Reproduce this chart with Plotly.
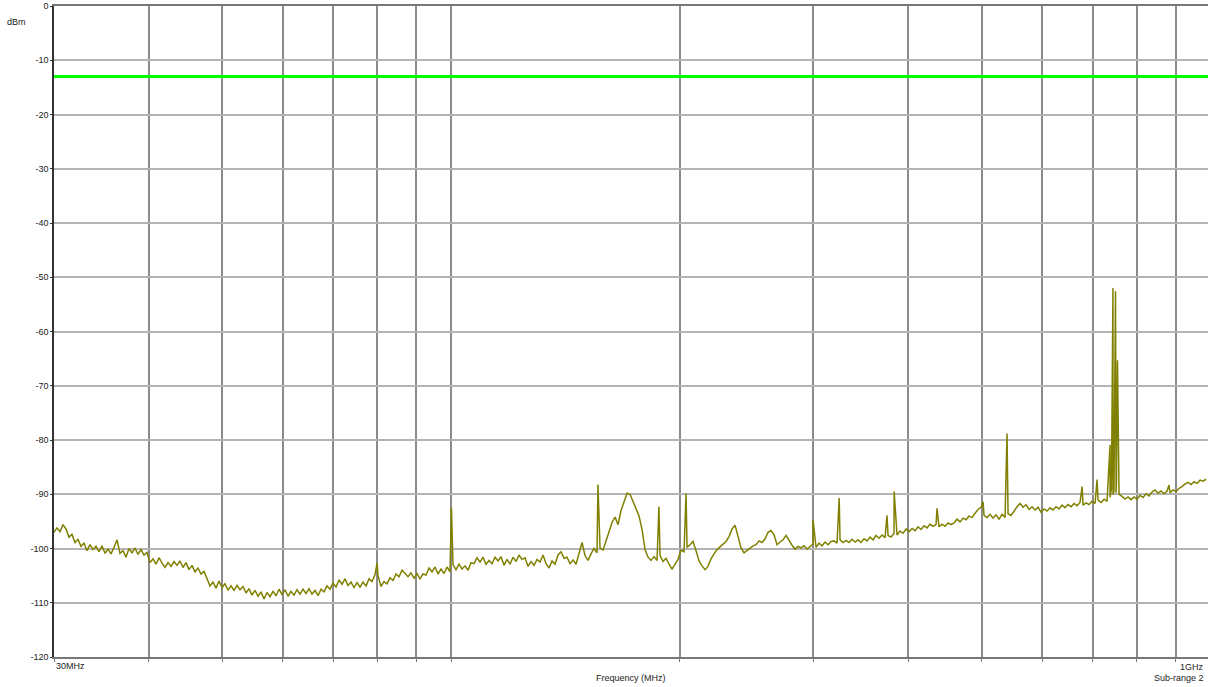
import numpy as np
import plotly.graph_objects as go

# --- sweep data (dBm) ---
F_START = 30.0      # MHz
F_STOP = 986.7      # MHz, last sweep point visible
LIMIT = -13.0       # dBm limit line

# noise floor, one value per sweep point (log sweep)
levels = [
    -97.0, -96.2, -96.9, -95.6, -96.4, -97.9, -97.4, -98.9, -98.3, -99.6, -99.0, -100.4, -99.3, -100.2, -99.6, -100.6, -99.5, -100.9, -100.1, -101.0,
    -99.8, -98.4, -100.9, -100.4, -101.6, -100.0, -100.8, -99.9, -101.1, -100.2, -101.2, -100.7, -102.6, -101.9, -102.9, -101.7, -102.7, -103.5, -102.6, -103.3,
    -102.4, -103.1, -102.3, -103.5, -102.6, -103.9, -103.1, -104.3, -103.6, -104.7, -104.2, -105.4, -106.9, -106.2, -107.3, -106.0, -107.2, -106.5, -107.7, -106.9,
    -107.7, -106.8, -107.6, -107.0, -108.2, -107.4, -108.6, -107.7, -108.8, -108.0, -109.3, -108.1, -108.9, -107.9, -108.7, -107.5, -108.5, -107.6, -108.8, -107.9,
    -108.6, -107.6, -108.4, -107.5, -108.3, -107.4, -108.4, -107.7, -108.7, -107.5, -108.0, -106.9, -107.5, -106.4, -107.1, -105.8, -106.6, -105.6, -106.8, -106.2,
    -107.2, -106.3, -107.1, -106.2, -106.9, -105.6, -106.1, -104.8, -105.0, -107.0, -106.1, -106.5, -105.4, -105.9, -104.7, -105.2, -104.0, -104.6, -105.2, -104.5,
    -105.5, -104.6, -105.6, -104.7, -104.9, -103.6, -104.3, -103.4, -104.7, -103.8, -104.6, -103.4, -104.3, -103.0, -103.9, -102.9, -103.8, -103.2, -104.0, -102.6,
    -102.8, -101.7, -102.5, -101.6, -102.9, -102.2, -102.8, -101.6, -102.3, -101.5, -103.1, -102.0, -102.9, -101.6, -102.4, -101.2, -102.0, -101.7, -103.3, -102.4,
    -103.1, -102.0, -102.5, -101.2, -102.8, -103.6, -102.3, -102.9, -101.2, -100.6, -101.8, -101.6, -102.8, -102.1, -102.9, -100.8, -98.9, -101.3, -102.2, -101.0,
    -100.0, -100.8, -99.9, -100.3, -98.6, -97.0, -95.2, -94.2, -95.6, -93.0, -91.2, -89.8, -90.0, -91.4, -92.6, -94.0, -96.5, -100.2, -101.6, -102.2,
    -101.5, -102.2, -101.3, -102.4, -101.8, -102.9, -103.8, -102.9, -102.0, -100.3, -100.6, -99.8, -99.3, -98.7, -100.4, -102.3, -103.2, -103.9, -103.3, -101.9,
    -101.0, -100.2, -99.7, -99.2, -98.7, -97.8, -96.4, -95.7, -97.8, -99.9, -100.8, -100.4, -100.0, -99.5, -99.3, -98.6, -98.9, -98.2, -97.0, -96.7,
    -97.5, -99.3, -98.8, -98.4, -97.6, -98.6, -99.4, -100.1, -99.6, -99.9, -99.5, -100.1, -99.7, -99.2, -99.8, -99.0, -99.5, -98.8, -99.3, -98.7,
    -98.6, -99.0, -98.4, -98.9, -98.5, -98.9, -98.3, -98.8, -98.4, -98.9, -98.2, -98.6, -97.9, -98.4, -97.6, -98.1, -97.5, -98.0, -97.6, -97.9,
    -97.2, -97.5, -96.8, -97.2, -96.4, -96.9, -96.3, -96.7, -96.0, -96.5, -95.8, -96.2, -95.5, -95.9, -95.6, -96.0, -95.5, -95.9, -95.3, -95.6,
    -95.3, -94.6, -95.1, -94.4, -94.7, -94.0, -94.3, -93.5, -92.8, -92.4, -93.9, -94.3, -93.7, -94.4, -93.8, -94.6, -93.7, -94.3, -93.6, -93.9,
    -93.0, -92.3, -91.7, -92.4, -91.9, -92.8, -92.3, -92.9, -92.4, -93.3, -92.7, -93.1, -92.5, -92.9, -92.3, -92.7, -92.0, -92.5, -91.9, -92.3,
    -91.7, -92.1, -91.5, -92.0, -91.6, -91.9, -91.3, -91.7, -91.1, -91.5, -90.9, -91.3, -90.6, -90.1, -89.7, -90.0, -90.4, -90.9, -90.5, -91.0,
    -90.5, -90.9, -90.2, -90.6, -89.9, -90.3, -89.6, -89.2, -89.8, -89.4, -89.9, -89.4, -89.7, -89.2, -89.5, -88.9, -88.6, -88.1, -87.8, -88.2,
    -87.7, -88.0, -87.4, -87.6, -87.2,
]

# narrowband emissions (MHz, dBm)
spike_freq = [79.9, 100.1, 156.1, 187.8, 203.9, 299.7, 324.4, 375.0, 383.2,
              436.4, 501.8, 539.6, 677.5, 709.0,
              737.5, 740.6, 744.0, 746.3, 749.8, 752.0, 754.3, 757.7, 881.7]
spike_level = [-102.7, -92.4, -88.2, -92.3, -89.8, -94.7, -90.7, -93.9, -89.5,
               -92.6, -91.4, -78.8, -88.6, -87.3,
               -80.9, -89.0, -52.0, -89.5, -52.6, -88.0, -65.3, -89.0, -88.3]

# axis ticks
grid_ticks = [30, 40, 50, 60, 70, 80, 90, 100, 200, 300, 400, 500, 600, 700, 800, 900]
y_ticks = [0, -10, -20, -30, -40, -50, -60, -70, -80, -90, -100, -110, -120]
y_labels = ["0", "-10", "-20", "-30", "-40", "-50", "-60", "-70", "-80", "-90", "-100", "-110", "-120"]

sweep = np.geomspace(F_START, F_STOP, len(levels))
freq = np.concatenate([sweep, spike_freq])
lvl = np.concatenate([levels, spike_level])
order = np.argsort(freq)
freq, lvl = freq[order], lvl[order]

FONT = "Liberation Sans, Arial, sans-serif"

fig = go.Figure()
fig.add_trace(go.Scatter(x=freq, y=lvl, mode="lines",
                         line=dict(color="#808000", width=1.5), hoverinfo="skip"))
fig.add_hline(y=LIMIT, line=dict(color="#00ff00", width=3))

fig.update_layout(
    width=1208, height=687,
    margin=dict(l=54, r=0, t=6, b=30),
    paper_bgcolor="white", plot_bgcolor="white",
    showlegend=False,
    font=dict(family=FONT, size=9, color="#222"),
)
fig.update_xaxes(
    type="log", range=[np.log10(30), np.log10(992.5)],
    tickvals=grid_ticks, showticklabels=False,
    ticks="outside", ticklen=3, tickcolor="#777",
    showgrid=True, gridcolor="#8c8c8c", gridwidth=1.5,
    showline=True, linecolor="#777", linewidth=1.5, mirror=True,
    zeroline=False,
)
fig.update_yaxes(
    range=[-120, 0], tickvals=y_ticks, ticktext=y_labels,
    ticks="outside", ticklen=2, tickcolor="#333",
    showgrid=True, gridcolor="#b4b4b4", gridwidth=2,
    showline=True, linecolor="#333", linewidth=1.5,
    zeroline=False,
)

notes = [
    dict(text="dBm", x=0, y=1, xanchor="center", yanchor="middle", xshift=-38, yshift=-16),
    dict(text="30MHz", x=0, y=0, xanchor="left", yanchor="top", yshift=-2),
    dict(text="1GHz", x=1, y=0, xanchor="right", yanchor="top", xshift=-2, yshift=-3),
    dict(text="Sub-range 2", x=1, y=0, xanchor="right", yanchor="top", xshift=-2, yshift=-14),
    dict(text="Frequency (MHz)", x=0.5, y=0, xanchor="center", yanchor="top", yshift=-14),
]
for n in notes:
    fig.add_annotation(xref="paper", yref="paper", showarrow=False, **n)

# page body margin would push the figure 8px off the origin
fig.write_html("out.html", config={"displayModeBar": False},
               post_script="document.body.style.margin='0';")
